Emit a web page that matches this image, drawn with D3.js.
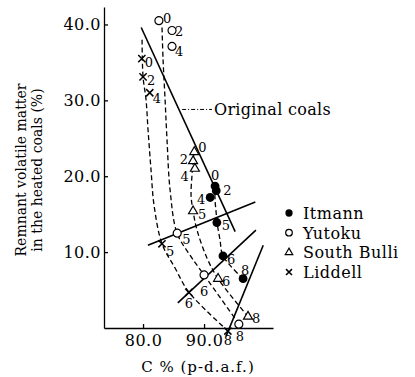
<!DOCTYPE html>
<html><head><meta charset="utf-8">
<script src="https://cdn.jsdelivr.net/npm/d3@7"></script>
<style>
html,body{margin:0;padding:0;background:#fff}
svg{display:block}
text{font-family:"DejaVu Serif",serif;fill:#000}
</style></head><body>
<svg id="chart" width="415" height="377"></svg>
<script>
// heating steps printed next to each point
const steps=["0","2","4","5","6","8"];
const coals=["Itmann","Yutoku","South Bulli","Liddell"];

// measured points: C% (d.a.f.) and remnant volatile matter (%)
const itmannC=[91.8,92.0,91.0,92.1,93.1,96.4];
const itmannVM=[18.7,18.1,17.2,13.9,9.5,6.5];
const yutokuC=[82.6,84.75,84.75,85.6,90.0,95.7];
const yutokuVM=[40.5,39.2,37.1,12.5,7.0,0.5];
const bulliC=[88.4,88.2,88.5,88.2,92.3,97.2];
const bulliVM=[23.2,22.0,21.0,15.4,6.5,1.5];
const liddellC=[79.8,80.0,81.1,83.1,87.5,93.9];
const liddellVM=[35.5,33.1,31.0,11.1,4.7,-0.4];

// hand drawn dashed trend curves
const itmannCurveC=[91.8,91.8,91.97,92.13,92.62,93.11,96.39];
const itmannCurveVM=[18.7,16.9,15.3,13.9,11.6,9.5,6.5];
const yutokuCurveC=[83.11,83.28,83.61,83.93,84.43,85.57,87.7,90.0,95.74];
const yutokuCurveVM=[39.6,35.4,30.1,24.8,18.2,12.5,9.6,7.0,0.5];
const bulliCurveC=[88.36,88.2,88.03,87.87,88.2,88.85,90.49,92.3,97.21];
const bulliCurveVM=[23.2,22.0,20.2,17.5,15.4,12.9,9.2,6.5,1.5];
const liddellCurveC=[79.84,80.0,80.49,80.82,81.31,81.8,83.11,85.25,87.54,93.93];
const liddellCurveVM=[38.0,33.1,30.1,26.1,20.8,16.2,11.1,7.9,4.7,-0.4];

// solid lines: original coals and the 5 / 6 / 8 step lines
const originalLine=[[79.7,39.6],[95.1,12.7]];
const step5Line=[[80.8,10.9],[98.4,16.6]];
const step6Line=[[85.7,3.3],[98.5,12.9]];
const step8Line=[[99.7,10.9],[93.6,-1.1]];

const yTicks=[10,20,30,40];
const xTicks=[80,90];

// label placement for the step numbers: [anchor, dx, dy]
const labelAt={
  "Itmann":[["middle",0,-6],["start",7,4],["end",-5,7],["start",5,7],["start",4,8],["middle",2,-4]],
  "Yutoku":[["start",4,2],["start",3,5],["start",3,10],["start",5,11],["middle",0,21],["middle",1,17]],
  "South Bulli":[["start",4,0],["end",-5,3],["end",-6,12],["start",5,8],["start",4,7],["start",4,6]],
  "Liddell":[["start",3,8],["start",4,8],["start",3,10],["start",4,12],["middle",0,16],["middle",0,14]]
};

const svg=d3.select("#chart");
const x=d3.scaleLinear().domain([73.6,101.3]).range([104,273]);
const y=d3.scaleLinear().domain([0,42.3]).range([328,7]);

// axes
const yAx=svg.append("g").attr("transform","translate(104,0)")
  .call(d3.axisLeft(y).tickValues(yTicks).tickFormat(d3.format(".1f")).tickSizeInner(-4).tickSizeOuter(0).tickPadding(3));
const xAx=svg.append("g").attr("transform","translate(0,328)")
  .call(d3.axisBottom(x).tickValues(xTicks).tickFormat(d3.format(".1f")).tickSizeInner(-4).tickSizeOuter(0).tickPadding(7));
[yAx,xAx].forEach(g=>{
  g.selectAll("path,line").attr("stroke","#000").attr("stroke-width",1.3);
  g.selectAll("text").attr("font-family","DejaVu Serif").attr("font-size",16).attr("letter-spacing",0.5).attr("fill","#000");
});

// axis titles
svg.append("text").attr("transform","translate(26,170) rotate(-90)")
  .attr("text-anchor","middle").attr("font-size",14).text("Remnant volatile matter");
svg.append("text").attr("transform","translate(42,170) rotate(-90)")
  .attr("text-anchor","middle").attr("font-size",14).text("in the heated coals (%)");
svg.append("text").attr("x",198).attr("y",372).attr("text-anchor","middle")
  .attr("font-size",15).attr("letter-spacing",1).text("C % (p-d.a.f.)");

// solid lines
const seg=d3.line().x(d=>x(d[0])).y(d=>y(d[1]));
[originalLine,step5Line,step6Line,step8Line].forEach(l=>{
  svg.append("path").attr("d",seg(l)).attr("fill","none").attr("stroke","#000").attr("stroke-width",1.6);
});

// dashed curves
const curve=d3.line().curve(d3.curveCatmullRom.alpha(0.5)).x(d=>x(d[0])).y(d=>y(d[1]));
[[itmannCurveC,itmannCurveVM],[yutokuCurveC,yutokuCurveVM],[bulliCurveC,bulliCurveVM],[liddellCurveC,liddellCurveVM]]
.forEach(([cs,vs])=>{
  svg.append("path").attr("d",curve(cs.map((c,i)=>[c,vs[i]])))
    .attr("fill","none").attr("stroke","#000").attr("stroke-width",1.3).attr("stroke-dasharray","5,3");
});

// "Original coals" note
const noteC=[86.4,91.3],noteVM=28.8;
svg.append("line").attr("x1",x(noteC[0])).attr("x2",x(noteC[1])).attr("y1",y(noteVM)).attr("y2",y(noteVM))
  .attr("stroke","#000").attr("stroke-width",1).attr("stroke-dasharray","4,2,1,2");
svg.append("text").attr("x",x(noteC[1])+2).attr("y",y(noteVM)+6).attr("font-size",16).attr("letter-spacing",0.3).text("Original coals");

// markers
function marker(g,kind,s){
  if(kind==="Itmann"){
    g.append("circle").attr("r",s*1.1).attr("fill","#000");
  }else if(kind==="Yutoku"){
    g.append("circle").attr("r",s).attr("fill","#fff").attr("stroke","#000").attr("stroke-width",1.2);
  }else if(kind==="South Bulli"){
    g.append("path").attr("d",d3.symbol(d3.symbolTriangle,s*s*2.2)()).attr("fill","#fff").attr("stroke","#000").attr("stroke-width",1.2);
  }else{
    const h=s*0.9;
    g.append("path").attr("d",`M${-h},${-h}L${h},${h}M${-h},${h}L${h},${-h}`).attr("stroke","#000").attr("stroke-width",1.5);
  }
}
const series=[["Itmann",itmannC,itmannVM],["Yutoku",yutokuC,yutokuVM],["South Bulli",bulliC,bulliVM],["Liddell",liddellC,liddellVM]];
series.forEach(([name,cs,vs])=>{
  cs.forEach((c,i)=>{
    const g=svg.append("g").attr("transform",`translate(${x(c)},${y(vs[i])})`);
    marker(g,name,4);
    const la=labelAt[name][i];
    g.append("text").attr("x",la[1]).attr("y",la[2]).attr("text-anchor",la[0]).attr("font-size",13).text(steps[i]);
  });
});

// legend
const lg=svg.append("g").attr("transform","translate(289,213)");
coals.forEach((c,i)=>{
  const g=lg.append("g").attr("transform",`translate(0,${i*19.7})`);
  marker(g,c,3.3);
  g.append("text").attr("x",14).attr("y",6).attr("font-size",16).attr("letter-spacing",0.5).text(c);
});
</script>
</body></html>
